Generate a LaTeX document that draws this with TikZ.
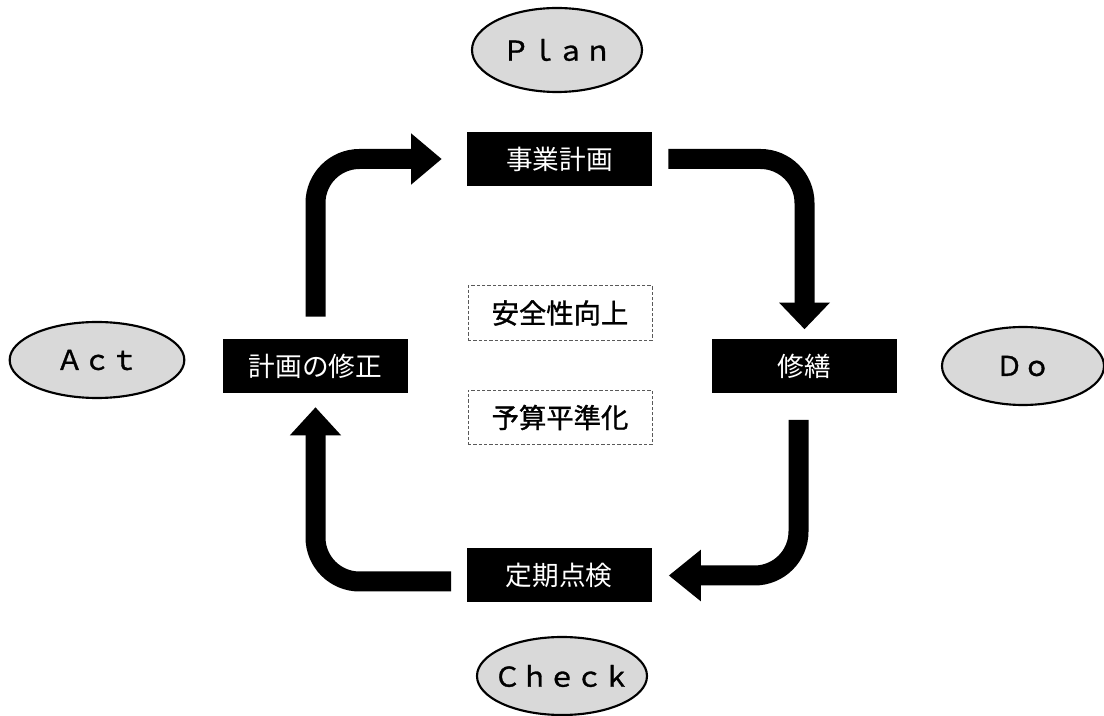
\documentclass[tikz,border=0pt]{standalone}
\usepackage{fontspec}
\newfontfamily\jp{Noto Sans CJK JP}
\newfontfamily\jpb[FakeBold=1.2]{Noto Sans CJK JP}
\usetikzlibrary{shapes.geometric,arrows.meta}
\begin{document}
\begin{tikzpicture}[x=0.75pt,y=-0.75pt,
  blackbox/.style={fill=black,text=white,minimum width=138.75pt,minimum height=40.5pt,inner sep=0pt,font=\jp\fontsize{20}{24}\selectfont},
  dashbox/.style={draw=black!65,line width=0.6pt,dash pattern=on 2.5pt off 1.5pt,minimum width=138pt,minimum height=41pt,inner sep=0pt,font=\jpb\fontsize{20.5}{24}\selectfont},
  phase/.style={ellipse,draw=black,line width=1.6pt,fill=black!15,inner sep=-9pt,font=\jpb\fontsize{20.5}{24}\selectfont},
  bigarrow/.style={draw=black,line width=15pt,rounded corners=33pt},
  bighead/.style={-{Triangle[length=#1,width=37pt 0 0]}},
]
\fill[white] (0,0) rectangle (1104,716);
\useasboundingbox (0,0) rectangle (1104,716);

% phase ellipses
\node[phase,minimum width=127.5pt,minimum height=63pt] (plan) at (557,50) {Ｐｌａｎ};
\node[phase,minimum width=131pt,minimum height=57pt] (act) at (97,360) {Ａｃｔ};
\node[phase,minimum width=121.5pt,minimum height=58.5pt] (do) at (1023,366) {Ｄｏ};
\node[phase,minimum width=127.5pt,minimum height=58.5pt] (check) at (562,676) {Ｃｈｅｃｋ};

% step boxes
\node[blackbox] (jigyo) at (559.5,159) {事業計画};
\node[blackbox] (shuzen) at (804.5,366.5) {修繕};
\node[blackbox] (teiki) at (559,575.5) {定期点検};
\node[blackbox] (kaisei) at (315.5,366) {計画の修正};

% goals
\node[dashbox] (anzen) at (560,313) {安全性向上};
\node[dashbox] (yosan) at (560,417.5) {予算平準化};

% arrows
\draw[bigarrow,bighead=23pt 0 0,shorten <=16.5pt,shorten >=18.75pt] (kaisei.north) |- (jigyo.west);
\draw[bigarrow,bighead=20pt 0 0,shorten <=12pt,shorten >=7.5pt] (jigyo.east) -| (shuzen.north);
\draw[bigarrow,bighead=24pt 0 0,shorten <=19.5pt,shorten >=12.75pt] ([xshift=-4.5pt]shuzen.south) |- (teiki.east);
\draw[bigarrow,bighead=21pt 0 0,shorten <=11.25pt,shorten >=10.5pt] ([yshift=-4.5pt]teiki.west) -| (kaisei.south);
\end{tikzpicture}
\end{document}
